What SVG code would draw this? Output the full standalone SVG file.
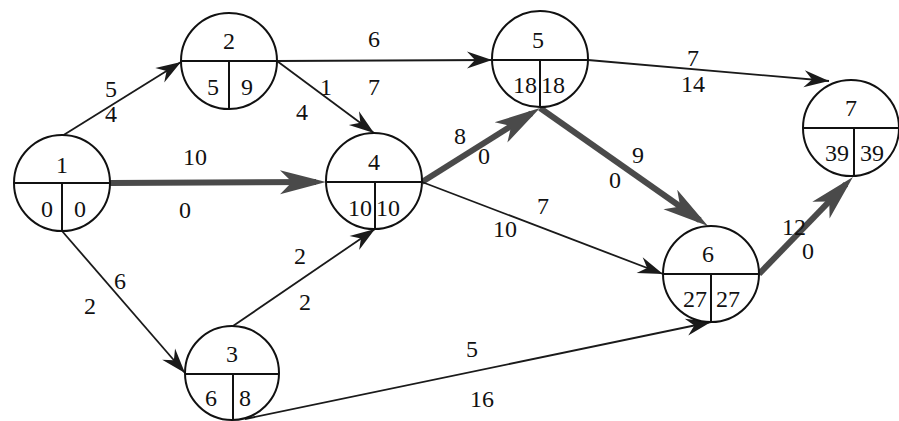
<svg xmlns="http://www.w3.org/2000/svg" width="899" height="421" viewBox="0 0 899 421">
  <style>
    .node circle { fill: #fff; stroke: #111; stroke-width: 2; }
    .node line { stroke: #111; stroke-width: 2; }
    svg text, text.t { font-family: "Liberation Serif", serif !important; font-size: 24px; fill: #111; text-anchor: middle; }
    .thin { stroke: #1a1a1a; stroke-width: 1.8; fill: none; marker-end: url(#arrow); }
    .crit { stroke: #4a4a4a; stroke-width: 6; fill: none; marker-end: url(#arrowBig); }
  </style>
  <defs>
    <marker id="arrow" markerUnits="userSpaceOnUse" viewBox="-26 -10 28 20" refX="0" refY="0" markerWidth="28" markerHeight="20" orient="auto">
      <path d="M0,0 L-25,-8.5 L-17,0 L-25,8.5 Z" fill="#1a1a1a"/>
    </marker>
    <marker id="arrowBig" markerUnits="userSpaceOnUse" viewBox="-40 -14 52 28" refX="0" refY="0" markerWidth="52" markerHeight="28" orient="auto">
      <path d="M10,0 L-36,-12 L-24,0 L-36,12 Z" fill="#4a4a4a"/>
    </marker>
  </defs>

  <!-- activity arrows -->
  <g id="connectors">
    <line class="thin" x1="62" y1="136" x2="181" y2="62"/>
    <line class="crit" x1="110" y1="183" x2="316" y2="182"/>
    <line class="thin" x1="62" y1="231" x2="185" y2="373"/>
    <line class="thin" x1="277" y1="61" x2="492" y2="60"/>
    <line class="thin" x1="277" y1="61" x2="374" y2="133"/>
    <line class="thin" x1="233" y1="326" x2="375" y2="229"/>
    <line class="thin" x1="245" y1="419" x2="711" y2="322"/>
    <line class="crit" x1="422" y1="182" x2="531.5" y2="113.3"/>
    <line class="thin" x1="422" y1="182" x2="663" y2="274"/>
    <line class="crit" x1="540" y1="108" x2="699.8" y2="220.2"/>
    <line class="thin" x1="588" y1="60" x2="829" y2="81"/>
    <line class="crit" x1="759" y1="274" x2="846" y2="184.2"/>

    <!-- durations and slacks -->
    <text class="t" style="font-family:'Liberation Serif',serif" x="111" y="97">5</text>
    <text class="t" style="font-family:'Liberation Serif',serif" x="111" y="122">4</text>
    <text class="t" style="font-family:'Liberation Serif',serif" x="195" y="165">10</text>
    <text class="t" style="font-family:'Liberation Serif',serif" x="185" y="218">0</text>
    <text class="t" style="font-family:'Liberation Serif',serif" x="120" y="289">6</text>
    <text class="t" style="font-family:'Liberation Serif',serif" x="90" y="314">2</text>
    <text class="t" style="font-family:'Liberation Serif',serif" x="374" y="47">6</text>
    <text class="t" style="font-family:'Liberation Serif',serif" x="374" y="95">7</text>
    <text class="t" style="font-family:'Liberation Serif',serif" x="326" y="95">1</text>
    <text class="t" style="font-family:'Liberation Serif',serif" x="302" y="120">4</text>
    <text class="t" style="font-family:'Liberation Serif',serif" x="300" y="264">2</text>
    <text class="t" style="font-family:'Liberation Serif',serif" x="305" y="310">2</text>
    <text class="t" style="font-family:'Liberation Serif',serif" x="460" y="144">8</text>
    <text class="t" style="font-family:'Liberation Serif',serif" x="484" y="164">0</text>
    <text class="t" style="font-family:'Liberation Serif',serif" x="638" y="163">9</text>
    <text class="t" style="font-family:'Liberation Serif',serif" x="615" y="188">0</text>
    <text class="t" style="font-family:'Liberation Serif',serif" x="543" y="214">7</text>
    <text class="t" style="font-family:'Liberation Serif',serif" x="505" y="237">10</text>
    <text class="t" style="font-family:'Liberation Serif',serif" x="693" y="66">7</text>
    <text class="t" style="font-family:'Liberation Serif',serif" x="693" y="92">14</text>
    <text class="t" style="font-family:'Liberation Serif',serif" x="794" y="235">12</text>
    <text class="t" style="font-family:'Liberation Serif',serif" x="808" y="259">0</text>
    <text class="t" style="font-family:'Liberation Serif',serif" x="472" y="357">5</text>
    <text class="t" style="font-family:'Liberation Serif',serif" x="482" y="407">16</text>
  </g>

  <!-- events -->
  <g id="node1" class="node">
    <circle cx="62" cy="183" r="48"/>
    <line x1="14" y1="183" x2="110" y2="183"/>
    <line x1="62" y1="183" x2="62" y2="231"/>
    <text class="t" style="font-family:'Liberation Serif',serif" x="62" y="173">1</text>
    <text class="t" style="font-family:'Liberation Serif',serif" x="47" y="217">0</text>
    <text class="t" style="font-family:'Liberation Serif',serif" x="80" y="217">0</text>
  </g>
  <g id="node2" class="node">
    <circle cx="229" cy="61" r="48"/>
    <line x1="181" y1="61" x2="277" y2="61"/>
    <line x1="229" y1="61" x2="229" y2="109"/>
    <text class="t" style="font-family:'Liberation Serif',serif" x="229" y="49">2</text>
    <text class="t" style="font-family:'Liberation Serif',serif" x="213" y="95">5</text>
    <text class="t" style="font-family:'Liberation Serif',serif" x="247" y="95">9</text>
  </g>
  <g id="node3" class="node">
    <circle cx="232" cy="373" r="47"/>
    <line x1="185" y1="374" x2="279" y2="374"/>
    <line x1="233" y1="374" x2="233" y2="420"/>
    <text class="t" style="font-family:'Liberation Serif',serif" x="232" y="362">3</text>
    <text class="t" style="font-family:'Liberation Serif',serif" x="211" y="406">6</text>
    <text class="t" style="font-family:'Liberation Serif',serif" x="245" y="406">8</text>
  </g>
  <g id="node4" class="node">
    <circle cx="374" cy="181" r="48"/>
    <line x1="326" y1="182" x2="422" y2="182"/>
    <line x1="375" y1="182" x2="375" y2="229"/>
    <text class="t" style="font-family:'Liberation Serif',serif" x="374" y="170">4</text>
    <text class="t" style="font-family:'Liberation Serif',serif" x="360" y="216">10</text>
    <text class="t" style="font-family:'Liberation Serif',serif" x="388" y="216">10</text>
  </g>
  <g id="node5" class="node">
    <circle cx="540" cy="59" r="48"/>
    <line x1="492" y1="60" x2="588" y2="60"/>
    <line x1="540" y1="60" x2="540" y2="107"/>
    <text class="t" style="font-family:'Liberation Serif',serif" x="538" y="48">5</text>
    <text class="t" style="font-family:'Liberation Serif',serif" x="525" y="93">18</text>
    <text class="t" style="font-family:'Liberation Serif',serif" x="553" y="93">18</text>
  </g>
  <g id="node6" class="node">
    <circle cx="711" cy="274" r="48"/>
    <line x1="663" y1="274" x2="759" y2="274"/>
    <line x1="711" y1="274" x2="711" y2="322"/>
    <text class="t" style="font-family:'Liberation Serif',serif" x="708" y="262">6</text>
    <text class="t" style="font-family:'Liberation Serif',serif" x="695" y="307">27</text>
    <text class="t" style="font-family:'Liberation Serif',serif" x="728" y="307">27</text>
  </g>
  <g id="node7" class="node">
    <circle cx="851" cy="128" r="48"/>
    <line x1="803" y1="128" x2="899" y2="128"/>
    <line x1="854" y1="128" x2="854" y2="176"/>
    <text class="t" style="font-family:'Liberation Serif',serif" x="851" y="116">7</text>
    <text class="t" style="font-family:'Liberation Serif',serif" x="837" y="161">39</text>
    <text class="t" style="font-family:'Liberation Serif',serif" x="872" y="161">39</text>
  </g>
</svg>
